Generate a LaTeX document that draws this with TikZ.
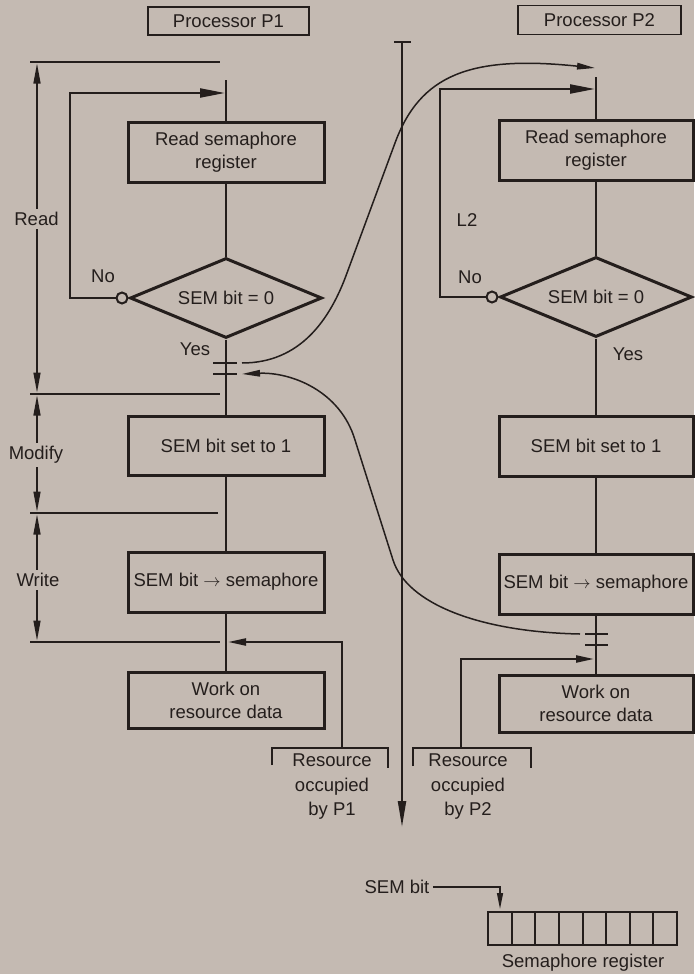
\documentclass[tikz,border=0pt]{standalone}
\usepackage{fontspec}
\setmainfont{Liberation Sans}
\usetikzlibrary{shapes.geometric,arrows.meta}
\definecolor{paper}{RGB}{196,186,178}
\definecolor{ink}{RGB}{36,30,28}

\begin{document}
\begin{tikzpicture}[x=1pt,y=-1pt,
  every node/.style={font=\fontsize{18.5}{23}\selectfont, text=ink},
  title/.style={draw=ink, line width=1.1pt, minimum width=161pt, minimum height=28pt, inner sep=0pt},
  proc/.style={draw=ink, line width=3pt, minimum width=196pt, minimum height=60pt, inner sep=0pt, align=center},
  test/.style={diamond, draw=ink, line width=3pt, shape aspect=2.4, minimum width=192pt, minimum height=80pt, inner sep=0pt},
  knot/.style={circle, draw=ink, line width=2pt, fill=paper, minimum size=11pt, inner sep=0pt},
  flow/.style={draw=ink, line width=2.2pt},
  guide/.style={draw=ink, line width=1.4pt},
  wire/.style={draw=ink, line width=1.5pt},
  looptip/.style={-{Triangle[length=25pt,width=9pt]}},
  feedtip/.style={-{Triangle[length=18pt,width=7pt]}},
  dimtip/.style={-{Triangle[length=20pt,width=7pt]}},
  curvetip/.style={-{Triangle[length=18pt,width=6.5pt]}},
  tag/.style={align=center, font=\fontsize{18.5}{24.5}\selectfont},
]
\useasboundingbox[fill=paper] (0,0) rectangle (694,974);

% ---------- headings ----------
\node[title] (head1) at (228.5,21) {Processor P1};
\node[title, minimum width=163pt, minimum height=29pt] (head2) at (599.5,20) {Processor P2};

% ---------- processor P1 flow ----------
\node[proc] (r1) at (226,152) {Read semaphore\\register};
\node[test] (d1) at (226,298) {SEM bit = 0};
\node[proc, minimum height=59pt] (s1) at (226,445.5) {SEM bit set to 1};
\node[proc] (w1) at (226,582) {SEM bit $\rightarrow$ semaphore};
\node[proc, minimum height=56pt] (k1) at (226,700) {Work on\\resource data};
\node[knot, anchor=east] (c1) at (d1.west) {};

\coordinate (top1) at (226,80);
\coordinate (loop1) at (226,93);
\coordinate (lock1a) at (226,363);
\coordinate (lock1b) at (226,374);
\coordinate (join1) at (226,642);

\draw[flow] (top1) -- (r1.north);
\draw[flow] (r1.south) -- (d1.north);
\draw[flow] (d1.south) -- (s1.north);
\draw[flow] (s1.south) -- (w1.north);
\draw[flow] (w1.south) -- (k1.north);
\draw[flow, looptip] (c1.west) -- (70,298) -- (70,93) -- ([xshift=-1pt]loop1);
\draw[flow] ([xshift=-13pt]lock1a) -- ([xshift=11pt]lock1a);
\draw[flow] ([xshift=-13pt]lock1b) -- ([xshift=11pt]lock1b);

\node (no1) at (103,276) {No};
\node (yes1) at (195,349) {Yes};

% ---------- read / modify / write phases ----------
\draw[guide] (30,62) -- (220,62);
\draw[guide] (30,394) -- (220,394);
\draw[guide] (30,513) -- (218,513);
\draw[guide] (30,642) -- (220,642);

\node (phread) at (36.5,219) {Read};
\node (phmod) at (36,455) {Modify};
\node (phwrite) at (38,580) {Write};
\draw[guide, dimtip] (phread.north -| 37,0) -- (37,63.5);
\draw[guide, dimtip] (phread.south -| 37,0) -- (37,392.5);
\draw[guide, dimtip] (phmod.north -| 37,0) -- (37,395.5);
\draw[guide, dimtip] (phmod.south -| 37,0) -- (37,511.5);
\draw[guide, dimtip] (phwrite.north -| 37,0) -- (37,514.5);
\draw[guide, dimtip] (phwrite.south -| 37,0) -- (37,640.5);

% ---------- processor P2 flow ----------
\node[proc, minimum width=194pt] (r2) at (596,150) {Read semaphore\\register};
\node[test] (d2) at (596,297) {SEM bit = 0};
\node[proc, minimum width=194pt] (s2) at (596,446) {SEM bit set to 1};
\node[proc, minimum width=194pt] (w2) at (596,584) {SEM bit $\rightarrow$ semaphore};
\node[proc, minimum width=194pt, minimum height=57pt] (k2) at (596,703.5) {Work on\\resource data};
\node[knot, anchor=east] (c2) at (d2.west) {};

\coordinate (top2) at (596,77);
\coordinate (loop2) at (596,89);
\coordinate (lock2a) at (596,634);
\coordinate (lock2b) at (596,645);
\coordinate (join2) at (596,659);

\draw[flow] (top2) -- (r2.north);
\draw[flow] (r2.south) -- (d2.north);
\draw[flow] (d2.south) -- (s2.north);
\draw[flow] (s2.south) -- (w2.north);
\draw[flow] (w2.south) -- (k2.north);
\draw[flow, looptip] (c2.west) -- (440,297) -- (440,89) -- ([xshift=-1pt]loop2);
\draw[flow] ([xshift=-11pt]lock2a) -- ([xshift=12pt]lock2a);
\draw[flow] ([xshift=-11pt]lock2b) -- ([xshift=12pt]lock2b);

\node (no2) at (470,277) {No};
\node (lbl2) at (467,220) {L2};
\node (yes2) at (628,354) {Yes};

% ---------- shared time axis ----------
\coordinate (axtop) at (402,42);
\coordinate (axend) at (402,827);
\draw[flow, -{Triangle[length=26pt,width=8pt]}] (axtop) -- (axend);
\draw[flow] ([xshift=-8pt]axtop) -- ([xshift=9pt]axtop);

% ---------- crossing hand-overs ----------
\coordinate (out1) at (242,363);
\coordinate (in1) at (242,374);
\coordinate (out2) at (580,634);
\coordinate (in2) at (595,68);
\draw[wire, curvetip] (out1) .. controls (300,363) and (330,320) .. (347,273)
  -- (395,143) .. controls (420,75) and (470,55) .. (in2);
\draw[wire, curvetip] (out2) .. controls (480,632) and (407,604) .. (393,560)
  -- (355,440) .. controls (340,390) and (290,372) .. (in1);

% ---------- resource occupation ----------
\coordinate (occ1) at (342,748);
\coordinate (occ2) at (461,748);
\draw[guide] (272,765) -- (272,748) -- (388,748) -- (388,768);
\draw[guide] (413,766) -- (413,748) -- (531,748) -- (531,768);
\node[tag] (tag1) at (332,787) {Resource\\occupied\\by P1};
\node[tag] (tag2) at (468,787) {Resource\\occupied\\by P2};
\draw[flow, feedtip] (occ1) -- (342,642) -- ([xshift=2pt]join1);
\draw[flow, feedtip] (occ2) -- (461,659) -- ([xshift=-2pt]join2);

% ---------- semaphore register ----------
\node (sembit) at (397,887) {SEM bit};
\draw[guide, -{Triangle[length=16pt,width=6pt]}] (sembit.east) -- (500,887) -- (500,909);
\foreach \i in {0,...,7} {
  \draw[draw=ink, line width=2pt] ({488+\i*23.625},912) rectangle ({488+(\i+1)*23.625},945);
}
\node (regname) at (583,963) {Semaphore register};
\end{tikzpicture}
\end{document}
